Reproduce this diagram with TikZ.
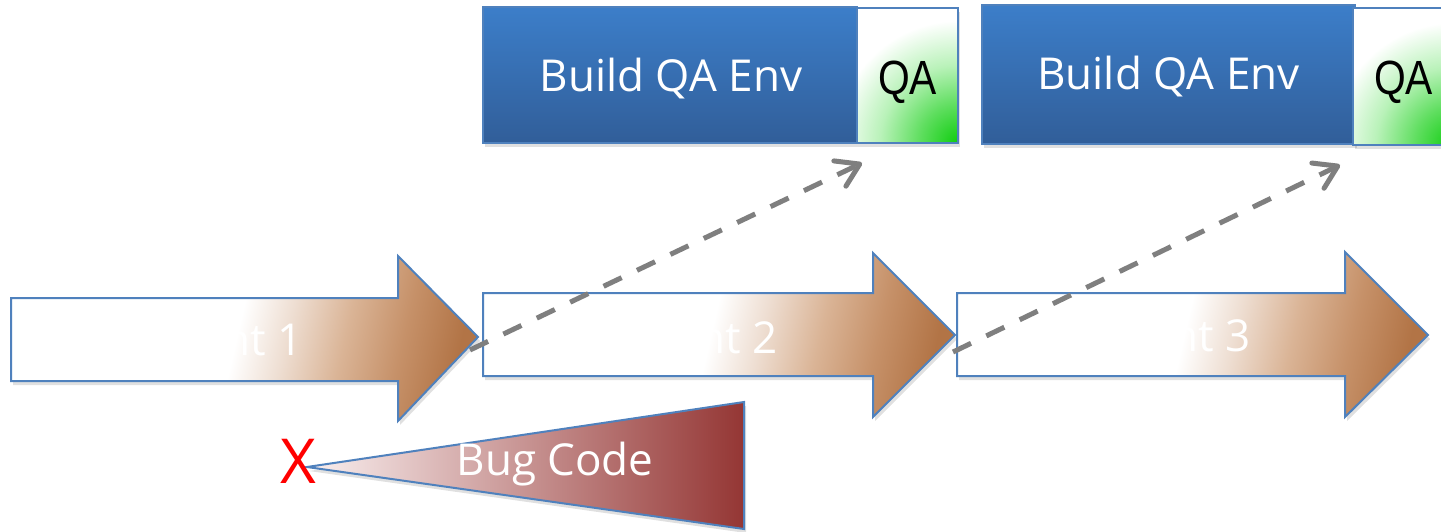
\documentclass[tikz,border=0pt]{standalone}
\usepackage{fontspec}
\setmainfont{Open Sans}
\newfontfamily\qafont[FakeStretch=0.85]{Liberation Sans}
\usetikzlibrary{arrows.meta,shadows}
\definecolor{outlineblue}{RGB}{79,129,189}
\definecolor{boxtop}{RGB}{60,126,201}
\definecolor{boxbot}{RGB}{49,94,153}
\definecolor{dashgray}{RGB}{127,127,127}
\definecolor{sprintA}{RGB}{238,222,210}
\definecolor{sprintB}{RGB}{218,180,150}
\definecolor{sprintC}{RGB}{198,145,105}
\definecolor{sprintD}{RGB}{178,116,70}
\definecolor{bugleft}{RGB}{250,240,240}
\definecolor{bugright}{RGB}{148,54,52}
\definecolor{qagreen}{RGB}{15,205,15}
\definecolor{qamid}{RGB}{95,222,95}
\definecolor{qalight}{RGB}{185,242,185}
\pgfdeclarehorizontalshading{sprintshade}{100bp}{color(0bp)=(white); color(49bp)=(white); color(55bp)=(sprintA); color(62bp)=(sprintB); color(69bp)=(sprintC); color(76bp)=(sprintD); color(100bp)=(sprintD)}
\pgfdeclareradialshading{qaglow}{\pgfpoint{0bp}{0bp}}{color(0bp)=(qagreen); color(3.2bp)=(qamid); color(6.5bp)=(qalight); color(10.2bp)=(white); color(50bp)=(white)}
\begin{document}
\begin{tikzpicture}[x=1pt,y=-1pt,
  softshadow/.style={drop shadow={shadow xshift=2pt,shadow yshift=-4pt,opacity=0.12,fill=black}},
  sprintarrow/.style={draw=outlineblue,line width=2pt,shade,shading=sprintshade,shading angle=-13,softshadow},
  sprintlabel/.style={text=white,font=\fontsize{44}{52}\selectfont,inner sep=0pt,anchor=base},
  bugshape/.style={draw=outlineblue,line width=2pt,left color=bugleft,right color=bugright,softshadow},
  buglabel/.style={text=white,font=\fontsize{44}{52}\selectfont,inner sep=0pt,anchor=base},
  xmark/.style={text=red,font=\fontsize{62}{70}\selectfont,inner sep=0pt,anchor=base},
  envbox/.style={draw=outlineblue,line width=2pt,top color=boxtop,bottom color=boxbot,inner sep=0pt,softshadow},
  envlabel/.style={text=white,font=\fontsize{44}{52}\selectfont,inner sep=0pt,anchor=base},
  qabox/.style={draw=outlineblue,line width=2pt,fill=white,inner sep=0pt,softshadow,
    path picture={\shade[shading=qaglow] (path picture bounding box.south east) circle (300pt);}},
  qalabel/.style={text=black,font=\qafont\fontsize{48}{56}\selectfont,inner sep=0pt,anchor=base},
  qaflow/.style={draw=dashgray,line width=5pt,dash pattern=on 20pt off 17pt,
    -{Straight Barb[length=22pt,width=28pt,line cap=round,line join=round]}}
]
\useasboundingbox (0,0) rectangle (1441,532);
\clip (0,0) rectangle (1441,532);
\fill[white] (0,0) rectangle (1441,532);

% sprint arrows
\path[sprintarrow] (11,298) -- (398,298) -- (398,256) -- (478,337) -- (398,421) -- (398,381) -- (11,381) -- cycle;
\path[sprintarrow] (483,293) -- (873,293) -- (873,253) -- (955,335) -- (873,417) -- (873,376) -- (483,376) -- cycle;
\path[sprintarrow] (957,293) -- (1345,293) -- (1345,252) -- (1428,335) -- (1345,417) -- (1345,376) -- (957,376) -- cycle;
\node[sprintlabel] (sp1) at (223,355) {Sprint 1};
\node[sprintlabel] (sp2) at (698,353) {Sprint 2};
\node[sprintlabel] (sp3) at (1171,351) {Sprint 3};

% bug code wedge
\path[bugshape] (307,467) -- (744,402) -- (744,529) -- cycle;
\node[buglabel] (bug) at (555,475) {Bug Code};
\node[xmark] (xm) at (298,483) {X};

% build QA env boxes
\node[envbox,minimum width=374pt,minimum height=136pt] (env1) at (670,75) {};
\node[qabox,minimum width=101pt,minimum height=135pt] (qa1) at (907.5,75.5) {};
\node[envlabel] (env1t) at (671,92) {Build QA Env};
\node[qalabel] (qa1t) at (907.5,95) {QA};

\node[envbox,minimum width=373pt,minimum height=139pt] (env2) at (1168.5,74.5) {};
\node[qabox,minimum width=101pt,minimum height=137pt] (qa2) at (1403.5,76.5) {};
\node[envlabel] (env2t) at (1168.5,90) {Build QA Env};
\node[qalabel] (qa2t) at (1403.5,95) {QA};

% dashed flows
\coordinate (f1s) at (470,350);
\coordinate (f1e) at (862,163);
\coordinate (f2s) at (953,352);
\coordinate (f2e) at (1340,165);
\draw[qaflow] (f1s) -- (f1e);
\draw[qaflow] (f2s) -- (f2e);
\end{tikzpicture}
\end{document}
